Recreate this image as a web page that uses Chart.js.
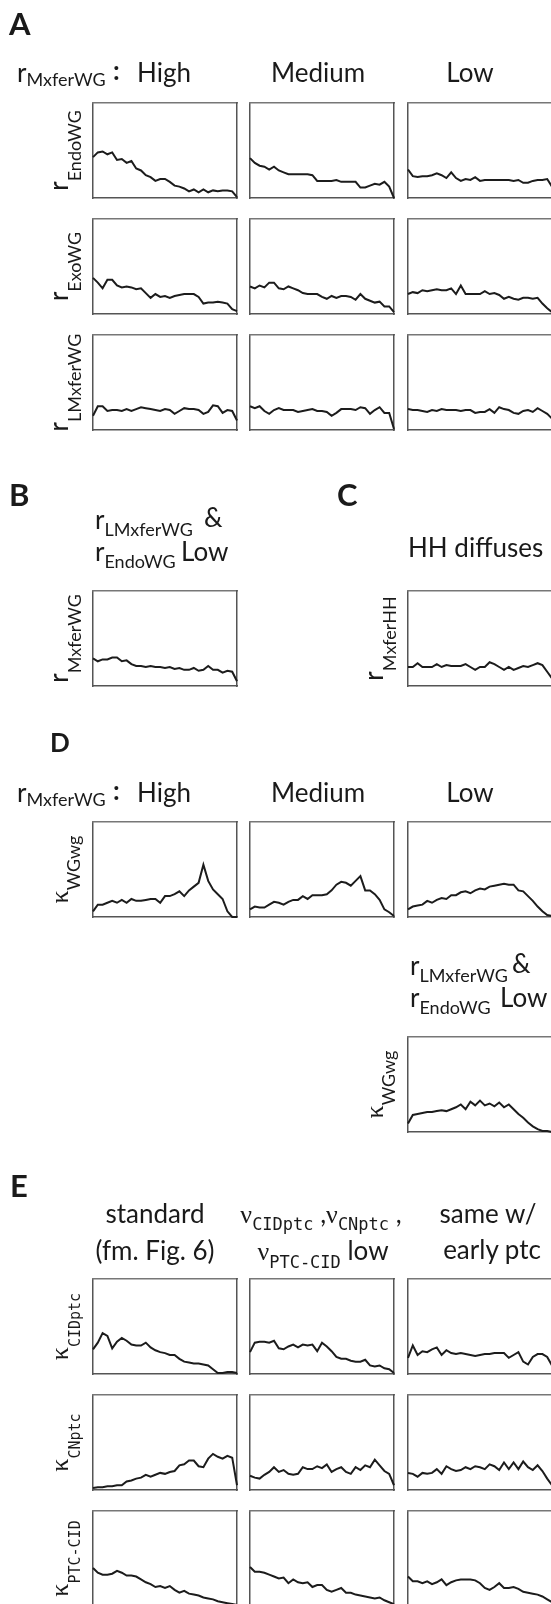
<!DOCTYPE html>
<html>
<head>
<meta charset="utf-8">
<script src="https://cdn.jsdelivr.net/npm/chart.js@4.4.1/dist/chart.umd.min.js"></script>
<style>
  html, body { margin: 0; padding: 0; background: #fff; }
  body { width: 551px; height: 1604px; overflow: hidden; position: relative; }
  canvas.panel { position: absolute; z-index: 1; }
  #labels { position: absolute; left: 0; top: 0; z-index: 2; }
  #labels text { font-family: Lato, "Open Sans", sans-serif; font-size: 26px; fill: #1a1a1a; white-space: pre; }
  #labels .pl { font-weight: bold; font-size: 31px; }
  #labels .s { font-size: 18px; }
  #labels .g { font-family: "Liberation Serif", serif; }
  #labels .m { font-family: "DejaVu Sans Mono", monospace; font-size: 15px; }
  #labels .mh { font-family: "DejaVu Sans Mono", monospace; font-size: 17px; }
</style>
</head>
<body>
<svg id="labels" width="551" height="1604" xmlns="http://www.w3.org/2000/svg">
  <!-- panel letters -->
  <text class="pl" x="9" y="35">A</text>
  <text class="pl" x="9" y="506">B</text>
  <text class="pl" x="337" y="506">C</text>
  <text class="pl" x="50" y="752" style="font-size:26px">D</text>
  <text class="pl" x="10" y="1197">E</text>

  <!-- A header -->
  <text x="17" y="82">r<tspan class="s" dy="4">MxferWG</tspan></text>
  <text x="113" y="80" font-weight="bold">:</text>
  <text x="137" y="82">High</text>
  <text x="318" y="82" text-anchor="middle">Medium</text>
  <text x="470" y="82" text-anchor="middle">Low</text>

  <!-- A row labels -->
  <text transform="translate(68,150.5) rotate(-90)" text-anchor="middle">r<tspan class="s" dy="13">EndoWG</tspan></text>
  <text transform="translate(68,266.5) rotate(-90)" text-anchor="middle">r<tspan class="s" dy="13">ExoWG</tspan></text>
  <text transform="translate(68,382.5) rotate(-90)" text-anchor="middle">r<tspan class="s" dy="13">LMxferWG</tspan></text>

  <!-- B -->
  <text x="95" y="529">r<tspan class="s" dy="7">LMxferWG</tspan></text>
  <text x="204" y="527">&amp;</text>
  <text x="95" y="561">r<tspan class="s" dy="7">EndoWG</tspan></text>
  <text x="181" y="561">Low</text>
  <text transform="translate(68,638.5) rotate(-90)" text-anchor="middle">r<tspan class="s" dy="13">MxferWG</tspan></text>

  <!-- C -->
  <text x="408" y="557">HH diffuses</text>
  <text transform="translate(383,638.5) rotate(-90)" text-anchor="middle">r<tspan class="s" dy="13">MxferHH</tspan></text>

  <!-- D header -->
  <text x="17" y="802">r<tspan class="s" dy="4">MxferWG</tspan></text>
  <text x="113" y="800" font-weight="bold">:</text>
  <text x="137" y="802">High</text>
  <text x="318" y="802" text-anchor="middle">Medium</text>
  <text x="470" y="802" text-anchor="middle">Low</text>
  <text transform="translate(68,869.5) rotate(-90)" text-anchor="middle"><tspan class="g">κ</tspan><tspan class="s" dy="12">WGwg</tspan></text>

  <text x="410" y="975">r<tspan class="s" dy="7">LMxferWG</tspan></text>
  <text x="512" y="973">&amp;</text>
  <text x="410" y="1007">r<tspan class="s" dy="7">EndoWG</tspan></text>
  <text x="500" y="1007">Low</text>
  <text transform="translate(383,1084.5) rotate(-90)" text-anchor="middle"><tspan class="g">κ</tspan><tspan class="s" dy="12">WGwg</tspan></text>

  <!-- E header -->
  <text x="155" y="1223" text-anchor="middle">standard</text>
  <text x="155" y="1260" text-anchor="middle">(fm. Fig. 6)</text>
  <text x="321" y="1223" text-anchor="middle"><tspan class="g">ν</tspan><tspan class="mh" dy="7">CIDptc</tspan><tspan dy="-7"> ,</tspan><tspan class="g">ν</tspan><tspan class="mh" dy="7">CNptc</tspan><tspan dy="-7"> ,</tspan></text>
  <text x="323" y="1260" text-anchor="middle"><tspan class="g">ν</tspan><tspan class="mh" dy="8">PTC-CID</tspan><tspan dy="-8"> low</tspan></text>
  <text x="488" y="1223" text-anchor="middle">same w/</text>
  <text x="492" y="1259" text-anchor="middle">early ptc</text>

  <!-- E row labels -->
  <text transform="translate(68,1326.5) rotate(-90)" text-anchor="middle"><tspan class="g">κ</tspan><tspan class="m" dy="12">CIDptc</tspan></text>
  <text transform="translate(68,1442.5) rotate(-90)" text-anchor="middle"><tspan class="g">κ</tspan><tspan class="m" dy="12">CNptc</tspan></text>
  <text transform="translate(68,1558.5) rotate(-90)" text-anchor="middle"><tspan class="g">κ</tspan><tspan class="m" dy="12">PTC-CID</tspan></text>
</svg>

<script>
// sample index along each trace (categories)
const samplePos = [0,1,2,3,4,5,6,7,8,9,10,11,12,13,14,15,16,17,18,19,20,21,22,23,24,25,26,27,28,29,30];

// A: r_EndoWG, r_ExoWG, r_LMxferWG for r_MxferWG High / Medium / Low (fraction of box height)
const endoHigh = [0.43,0.48,0.49,0.46,0.48,0.40,0.41,0.37,0.39,0.31,0.29,0.24,0.22,0.18,0.20,0.20,0.17,0.13,0.12,0.10,0.07,0.09,0.06,0.09,0.06,0.08,0.07,0.08,0.08,0.07,0.01];
const endoMed  = [0.42,0.37,0.34,0.33,0.30,0.33,0.29,0.27,0.25,0.25,0.25,0.25,0.25,0.24,0.18,0.18,0.18,0.18,0.19,0.17,0.17,0.17,0.17,0.11,0.11,0.13,0.15,0.14,0.17,0.12,0.00];
const endoLow  = [0.30,0.23,0.22,0.23,0.23,0.24,0.26,0.24,0.21,0.27,0.21,0.18,0.20,0.19,0.22,0.18,0.19,0.19,0.19,0.19,0.19,0.19,0.18,0.19,0.16,0.16,0.18,0.19,0.19,0.20,0.12];
const exoHigh  = [0.38,0.33,0.27,0.36,0.36,0.30,0.28,0.29,0.28,0.26,0.27,0.22,0.17,0.21,0.18,0.19,0.17,0.19,0.20,0.21,0.21,0.21,0.18,0.11,0.12,0.12,0.13,0.12,0.11,0.05,0.03];
const exoMed   = [0.29,0.27,0.30,0.28,0.33,0.33,0.27,0.26,0.29,0.27,0.25,0.22,0.21,0.21,0.21,0.18,0.16,0.19,0.17,0.19,0.19,0.18,0.15,0.21,0.16,0.14,0.12,0.13,0.08,0.08,0.02];
const exoLow   = [0.21,0.23,0.22,0.25,0.24,0.25,0.26,0.25,0.25,0.27,0.21,0.30,0.21,0.21,0.21,0.21,0.24,0.21,0.22,0.20,0.16,0.18,0.16,0.15,0.17,0.17,0.16,0.17,0.11,0.06,0.02];
const lmHigh   = [0.15,0.25,0.25,0.20,0.21,0.21,0.20,0.22,0.20,0.22,0.24,0.23,0.22,0.21,0.20,0.22,0.21,0.17,0.20,0.23,0.22,0.22,0.21,0.17,0.19,0.26,0.25,0.18,0.21,0.20,0.10];
const lmMed    = [0.25,0.23,0.25,0.20,0.17,0.21,0.23,0.21,0.21,0.21,0.19,0.20,0.21,0.22,0.20,0.20,0.19,0.15,0.18,0.22,0.22,0.22,0.21,0.24,0.23,0.17,0.21,0.24,0.18,0.18,0.01];
const lmLow    = [0.22,0.21,0.21,0.20,0.19,0.21,0.20,0.22,0.21,0.21,0.21,0.20,0.21,0.21,0.18,0.19,0.19,0.22,0.18,0.24,0.22,0.21,0.18,0.17,0.20,0.21,0.19,0.23,0.20,0.17,0.12];

// B and C
const mxferBoth = [0.29,0.26,0.28,0.28,0.30,0.30,0.26,0.27,0.23,0.21,0.21,0.20,0.21,0.20,0.20,0.19,0.20,0.18,0.19,0.17,0.17,0.19,0.16,0.17,0.21,0.17,0.17,0.14,0.16,0.15,0.05];
const mxferHH   = [0.20,0.20,0.24,0.20,0.20,0.20,0.23,0.20,0.22,0.21,0.21,0.21,0.23,0.20,0.17,0.20,0.20,0.25,0.23,0.20,0.17,0.20,0.17,0.19,0.21,0.20,0.22,0.24,0.22,0.15,0.08];

// D: kappa_WGwg
const wgHigh = [0.06,0.13,0.13,0.15,0.17,0.15,0.18,0.15,0.19,0.17,0.17,0.18,0.19,0.19,0.15,0.22,0.22,0.24,0.27,0.22,0.28,0.32,0.36,0.55,0.38,0.29,0.24,0.19,0.06,0.00,0.00];
const wgMed  = [0.08,0.11,0.10,0.10,0.13,0.16,0.15,0.13,0.16,0.18,0.18,0.22,0.19,0.23,0.23,0.23,0.24,0.28,0.34,0.37,0.36,0.33,0.38,0.43,0.28,0.28,0.24,0.18,0.08,0.05,0.01];
const wgLow  = [0.08,0.11,0.12,0.13,0.17,0.15,0.18,0.20,0.19,0.23,0.23,0.26,0.27,0.25,0.28,0.30,0.29,0.32,0.33,0.34,0.35,0.34,0.34,0.28,0.27,0.22,0.17,0.11,0.06,0.02,0.01];
const wgBoth = [0.09,0.18,0.19,0.20,0.21,0.21,0.22,0.23,0.22,0.24,0.26,0.29,0.24,0.32,0.28,0.33,0.28,0.30,0.27,0.31,0.26,0.29,0.24,0.19,0.15,0.10,0.06,0.03,0.01,0.01,0.00];

// E: kappa_CIDptc, kappa_CNptc, kappa_PTC-CID
const cidStd   = [0.26,0.33,0.43,0.40,0.27,0.34,0.38,0.35,0.31,0.30,0.30,0.33,0.28,0.25,0.23,0.22,0.20,0.20,0.16,0.13,0.12,0.11,0.11,0.10,0.09,0.05,0.01,0.01,0.02,0.02,0.01];
const cidLow   = [0.23,0.33,0.34,0.34,0.33,0.35,0.27,0.26,0.29,0.31,0.28,0.31,0.30,0.31,0.24,0.33,0.29,0.24,0.18,0.16,0.16,0.14,0.13,0.13,0.15,0.09,0.08,0.09,0.06,0.05,0.01];
const cidEarly = [0.17,0.30,0.20,0.24,0.23,0.26,0.28,0.20,0.25,0.22,0.21,0.22,0.21,0.20,0.19,0.20,0.21,0.21,0.22,0.22,0.22,0.17,0.20,0.23,0.13,0.10,0.18,0.21,0.21,0.18,0.09];
const cnStd    = [0.02,0.03,0.03,0.04,0.04,0.05,0.05,0.09,0.10,0.12,0.13,0.16,0.14,0.16,0.18,0.17,0.19,0.20,0.26,0.27,0.31,0.31,0.25,0.24,0.33,0.38,0.35,0.33,0.36,0.34,0.05];
const cnLow    = [0.15,0.13,0.12,0.16,0.19,0.24,0.19,0.21,0.17,0.16,0.17,0.24,0.22,0.22,0.25,0.23,0.27,0.19,0.22,0.24,0.19,0.17,0.24,0.21,0.26,0.24,0.32,0.26,0.20,0.17,0.05];
const cnEarly  = [0.18,0.17,0.14,0.18,0.17,0.18,0.22,0.17,0.25,0.22,0.20,0.21,0.24,0.22,0.25,0.24,0.22,0.27,0.25,0.21,0.29,0.22,0.29,0.22,0.30,0.24,0.21,0.26,0.20,0.12,0.05];
const ptcStd   = [0.40,0.35,0.33,0.33,0.34,0.37,0.35,0.32,0.32,0.31,0.28,0.25,0.23,0.20,0.21,0.19,0.21,0.17,0.14,0.16,0.13,0.12,0.11,0.09,0.08,0.07,0.05,0.04,0.03,0.02,0.01];
const ptcLow   = [0.41,0.36,0.36,0.35,0.33,0.31,0.29,0.30,0.24,0.28,0.25,0.24,0.25,0.20,0.22,0.22,0.17,0.15,0.17,0.19,0.14,0.14,0.12,0.11,0.10,0.09,0.08,0.09,0.06,0.04,0.02];
const ptcEarly = [0.31,0.26,0.26,0.24,0.26,0.23,0.25,0.28,0.22,0.25,0.27,0.28,0.28,0.28,0.27,0.24,0.19,0.17,0.20,0.24,0.19,0.19,0.20,0.18,0.15,0.14,0.13,0.12,0.10,0.07,0.04];

// layout of the small boxes (page pixels)
const BOX_W = 144, BOX_H = 95, PAD = 3;
const colX = [93, 250, 408];

const panels = [
  [endoHigh, colX[0], 103], [endoMed, colX[1], 103], [endoLow, colX[2], 103],
  [exoHigh,  colX[0], 219], [exoMed,  colX[1], 219], [exoLow,  colX[2], 219],
  [lmHigh,   colX[0], 335], [lmMed,   colX[1], 335], [lmLow,   colX[2], 335],
  [mxferBoth, colX[0], 591], [mxferHH, colX[2], 591],
  [wgHigh, colX[0], 822], [wgMed, colX[1], 822], [wgLow, colX[2], 822],
  [wgBoth, colX[2], 1037],
  [cidStd, colX[0], 1279], [cidLow, colX[1], 1279], [cidEarly, colX[2], 1279],
  [cnStd,  colX[0], 1395], [cnLow,  colX[1], 1395], [cnEarly,  colX[2], 1395],
  [ptcStd, colX[0], 1511], [ptcLow, colX[1], 1511], [ptcEarly, colX[2], 1511]
];

// axis that only draws its border line = one side of the box
function edge(type, position, dash, color) {
  const s = {
    type: type, position: position, display: true,
    ticks: { display: false },
    grid: { display: false, drawTicks: false },
    border: { display: true, color: color || '#555', width: 1.5, dash: dash || [] }
  };
  if (type === 'linear') { s.min = 0; s.max = 1; }
  return s;
}

function drawPanel(values, left, top) {
  const cv = document.createElement('canvas');
  cv.className = 'panel';
  cv.width = BOX_W + 2 * PAD;
  cv.height = BOX_H + 2 * PAD;
  cv.style.left = (left - PAD) + 'px';
  cv.style.top = (top - PAD) + 'px';
  document.body.appendChild(cv);

  new Chart(cv.getContext('2d'), {
    type: 'line',
    data: {
      labels: samplePos,
      datasets: [{
        data: values,
        borderColor: '#1c1c1c',
        borderWidth: 2,
        pointRadius: 0,
        tension: 0,
        fill: false,
        clip: PAD
      }]
    },
    options: {
      responsive: false,
      animation: false,
      events: [],
      layout: { padding: PAD },
      plugins: { legend: { display: false }, tooltip: { enabled: false } },
      scales: {
        x: edge('category', 'bottom'),
        y: edge('linear', 'left'),
        xTop: edge('linear', 'top', [1.5, 1.5], '#777'),
        yRight: edge('linear', 'right')
      }
    }
  });
}

panels.forEach(p => drawPanel(p[0], p[1], p[2]));
</script>
</body>
</html>
